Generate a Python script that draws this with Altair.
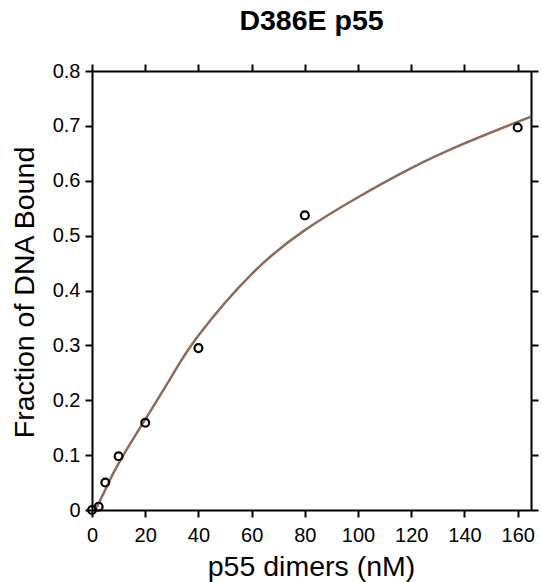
import altair as alt
import pandas as pd

# measured data (p55 dimers, nM) and fraction of DNA bound
conc = [0, 2.5, 5, 10, 20, 40, 80, 160]
frac = [0.0, 0.006, 0.05, 0.098, 0.159, 0.295, 0.537, 0.697]

# fitted curve
fit_x = [1.2, 5, 10, 20, 30, 40, 60, 80, 100, 120, 140, 165]
fit_y = [0.0, 0.037, 0.085, 0.165, 0.244, 0.318, 0.43, 0.51, 0.57, 0.623, 0.668, 0.717]

x_ticks = [0, 20, 40, 60, 80, 100, 120, 140, 160]
y_ticks = [0, 0.1, 0.2, 0.3, 0.4, 0.5, 0.6, 0.7, 0.8]

pts = pd.DataFrame({"x": conc, "y": frac})
fit = pd.DataFrame({"x": fit_x, "y": fit_y})

FONT = "Liberation Sans"

xscale = alt.Scale(domain=[0, 165], nice=False, zero=False)
yscale = alt.Scale(domain=[0, 0.8], nice=False, zero=False)

line = alt.Chart(fit).mark_line(color="#8c6b5a", strokeWidth=2.5, interpolate="natural").encode(
    x=alt.X("x:Q", scale=xscale,
            axis=alt.Axis(orient="bottom", values=x_ticks, title="p55 dimers (nM)",
                          labelPadding=8, labelFlush=False, titleX=219, titleY=65,
                          titleBaseline="alphabetic", titleAlign="center")),
    y=alt.Y("y:Q", scale=yscale,
            axis=alt.Axis(orient="left", values=y_ticks, title="Fraction of DNA Bound",
                          labelExpr="datum.value == 0 ? '0' : format(datum.value, '.1f')",
                          labelPadding=5, labelFlush=False, titleX=-59, titleY=221,
                          titleBaseline="alphabetic", titleAlign="center")),
)

points = alt.Chart(pts).mark_point(shape="circle", filled=False, color="black",
                                   size=62, strokeWidth=2.2, opacity=1).encode(
    x=alt.X("x:Q", scale=xscale,
            axis=alt.Axis(orient="top", values=x_ticks, labels=False, title=None)),
    y=alt.Y("y:Q", scale=yscale,
            axis=alt.Axis(orient="right", values=y_ticks, labels=False, title=None)),
)

chart = alt.layer(line, points).resolve_axis(x="independent", y="independent").properties(
    width=439,
    height=439,
    background="white",
    autosize=alt.AutoSizeParams(type="none"),
    padding={"left": 92, "top": 71, "right": 11, "bottom": 72},
    title=alt.TitleParams("D386E p55", font=FONT, fontSize=28.5, fontWeight="bold",
                          color="black", anchor="middle", frame="group",
                          baseline="alphabetic", offset=3),
).configure_view(stroke="transparent").configure_axis(
    grid=False, domainColor="black", domainWidth=2, tickColor="black", tickWidth=2,
    tickSize=7, labelFont=FONT, labelFontSize=20, labelColor="black",
    titleFont=FONT, titleFontSize=28.5, titleFontWeight="normal", titleColor="black",
)

chart.save("out.html", embed_options={"renderer": "svg", "actions": False})
